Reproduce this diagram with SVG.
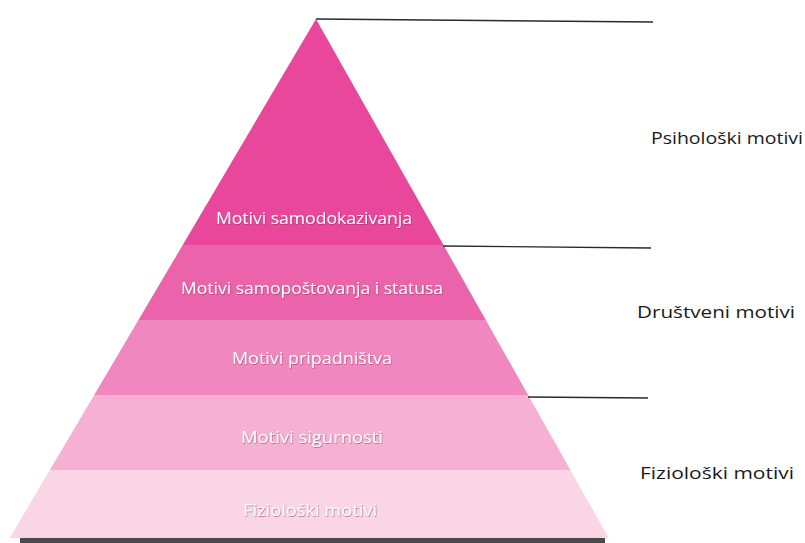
<svg xmlns="http://www.w3.org/2000/svg" width="805" height="543" viewBox="0 0 805 543">
<defs>
<filter id="sh" x="-10%" y="-30%" width="120%" height="160%">
<feDropShadow dx="0.6" dy="0.8" stdDeviation="0.6" flood-color="#7a2a55" flood-opacity="0.6"/>
</filter>
</defs>
<style>
.band-label{font-family:"Open Sans","Liberation Sans",Arial,sans-serif;font-size:16px;fill:#ffffff;text-anchor:middle;filter:url(#sh);}
.side-label{font-family:"Open Sans","Liberation Sans",Arial,sans-serif;font-size:17px;fill:#1a1a1a;}
.conn{stroke:#2a2a2a;stroke-width:1.4;fill:none;}
</style>
<rect width="805" height="543" fill="#ffffff"/>
<g id="band-samodokazivanje">
<polygon points="316,19 443.5,245 182.7,245" fill="#e8479c"/>
<text class="band-label" x="314" y="224" textLength="196" lengthAdjust="spacingAndGlyphs">Motivi samodokazivanja</text>
</g>
<g id="band-samopostovanje">
<polygon points="182.7,245 443.5,245 485.8,320 138.4,320" fill="#eb64ab"/>
<text class="band-label" x="312" y="294" textLength="262" lengthAdjust="spacingAndGlyphs">Motivi samopoštovanja i statusa</text>
</g>
<g id="band-pripadnistvo">
<polygon points="138.4,320 485.8,320 528.1,395 94.2,395" fill="#f088bf"/>
<text class="band-label" x="312" y="364" textLength="160" lengthAdjust="spacingAndGlyphs">Motivi pripadništva</text>
</g>
<g id="band-sigurnost">
<polygon points="94.2,395 528.1,395 570.4,470 49.9,470" fill="#f5b0d4"/>
<text class="band-label" x="312" y="443" textLength="142" lengthAdjust="spacingAndGlyphs">Motivi sigurnosti</text>
</g>
<g id="band-fizioloski">
<polygon points="49.9,470 570.4,470 608.7,538 9.8,538" fill="#f9d5e6"/>
<text class="band-label" x="310" y="516" textLength="134" lengthAdjust="spacingAndGlyphs">Fiziološki motivi</text>
</g>
<rect x="20" y="538" width="585" height="5" fill="#4a4a4a"/>
<g id="connectors">
<line class="conn" x1="316" y1="19" x2="653" y2="22"/>
<line class="conn" x1="443" y1="246" x2="651" y2="248"/>
<line class="conn" x1="528" y1="397" x2="648" y2="398"/>
</g>
<g id="label-psiholoski">
<text class="side-label" x="651" y="144" textLength="152" lengthAdjust="spacingAndGlyphs">Psihološki motivi</text>
</g>
<g id="label-drustveni">
<text class="side-label" x="637" y="318" textLength="158" lengthAdjust="spacingAndGlyphs">Društveni motivi</text>
</g>
<g id="label-fizioloski">
<text class="side-label" x="640" y="479" textLength="154" lengthAdjust="spacingAndGlyphs">Fiziološki motivi</text>
</g>
</svg>
